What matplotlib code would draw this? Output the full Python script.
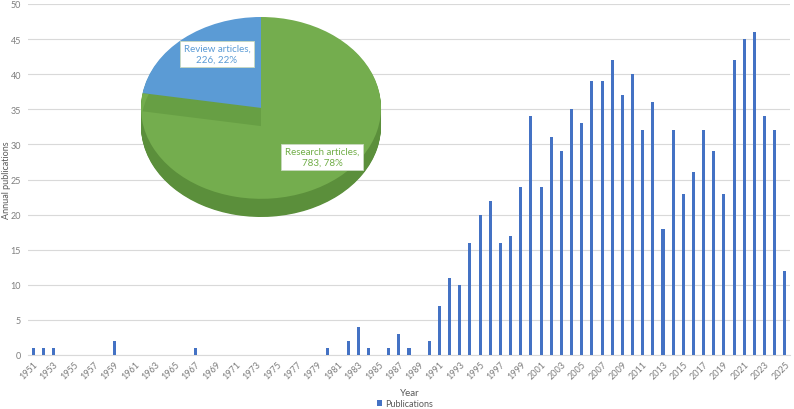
import matplotlib.pyplot as plt
import numpy as np

plt.rcParams['font.family'] = ['Lato', 'DejaVu Sans']

# annual publication counts, 1951-2025
years = list(range(1951, 2026))
pubs = [1, 1, 1, 0, 0, 0, 0, 0, 2, 0,
        0, 0, 0, 0, 0, 0, 1, 0, 0, 0,
        0, 0, 0, 0, 0, 0, 0, 0, 0, 1,
        0, 2, 4, 1, 0, 1, 3, 1, 0, 2,
        7, 11, 10, 16, 20, 22, 16, 17, 24, 34,
        24, 31, 29, 35, 33, 39, 39, 42, 37, 40,
        32, 36, 18, 32, 23, 26, 32, 29, 23, 42,
        45, 46, 34, 32, 12]

# article types for the pie
types = ['Review articles', 'Research articles']
counts = [226, 783]

W, H = 794, 410
fig = plt.figure(figsize=(W / 100, H / 100), dpi=100)

def px(x0, y0, x1, y1):
    # pixel box (top-left origin) -> figure fraction rect
    return [x0 / W, 1 - y1 / H, (x1 - x0) / W, (y1 - y0) / H]

grey = '#7f7f7f'
ax = fig.add_axes(px(28, 5, 790, 356))
xpos = np.arange(len(years))
bars = ax.bar(xpos, pubs, width=0.3, color='#4472c4', label='Publications', zorder=3)
ax.set_xlim(-0.5, len(years) - 0.5)
ax.set_ylim(0, 50)
ax.set_yticks(np.arange(0, 51, 5))
ax.tick_params(axis='y', length=0, labelsize=6.5, labelcolor=grey, pad=5)
ax.set_xticks(xpos[::2])
ax.set_xticklabels([str(y) for y in years[::2]], rotation=45, ha='right',
                   rotation_mode='anchor', fontsize=6.5, color=grey)
ax.tick_params(axis='x', length=0, pad=3)
ax.grid(axis='y', color='#d9d9d9', lw=0.8, zorder=0)
for s in ax.spines.values():
    s.set_visible(False)
ax.spines['bottom'].set_visible(True)
ax.spines['bottom'].set_color('#d9d9d9')
ax.set_ylabel('Annual publications', fontsize=6.5, color='#595959')
ax.yaxis.set_label_coords(-17 / 762, 0.5)
fig.text(410 / W, 1 - 394 / H, 'Year', fontsize=7, color='#595959', ha='center', va='center')
fig.legend(handles=[bars], loc='center', bbox_to_anchor=(405 / W, 1 - 405 / H),
           frameon=False, fontsize=6.5, handlelength=0.6, handleheight=0.6,
           handletextpad=0.3, labelcolor='#595959')

# 3D-looking pie inset
pax = fig.add_axes(px(141, 18, 381, 218))
depth = 0.2
side = '#5b8f3b'
top_green = '#74ad4e'
blue = '#5b9bd5'
for k in np.linspace(depth, 0.01, 25):
    w, _ = pax.pie(counts, startangle=90, colors=[side, side], center=(0, -k),
                   radius=1, wedgeprops=dict(lw=0))
w, _ = pax.pie(counts, startangle=90, colors=['none', top_green], radius=1,
               wedgeprops=dict(lw=0))
w, _ = pax.pie(counts, startangle=90, colors=['#679f44', 'none'], center=(0, -depth),
               radius=1, wedgeprops=dict(lw=0))
w, _ = pax.pie(counts, startangle=90, colors=[blue, 'none'], radius=1,
               wedgeprops=dict(lw=0))
pax.set_aspect('auto')
pax.set_xlim(-1, 1)
pax.set_ylim(-1 - depth, 1)
pax.axis('off')

total = sum(counts)
lab = [f'{t},\n{c}, {round(100 * c / total)}%' for t, c in zip(types, counts)]
fig.text(217 / W, 1 - 55 / H, lab[0], fontsize=7, color=blue, ha='center', va='center',
         linespacing=1.3,
         bbox=dict(boxstyle='square,pad=0.35', fc='white', ec='#c9d9c0', lw=0.6))
fig.text(322 / W, 1 - 158 / H, lab[1], fontsize=7, color='#70ad47', ha='center', va='center',
         linespacing=1.3,
         bbox=dict(boxstyle='square,pad=0.35', fc='white', ec='#c9d9c0', lw=0.6))

fig.savefig('out.png', dpi=100)
